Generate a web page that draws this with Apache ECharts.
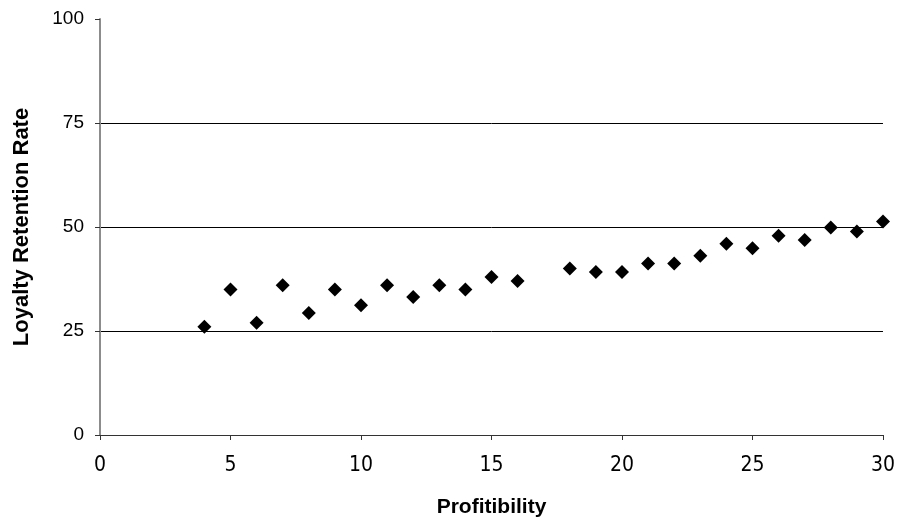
<!DOCTYPE html>
<html>
<head>
<meta charset="utf-8">
<script src="https://cdn.jsdelivr.net/npm/echarts@6/dist/echarts.min.js"></script>
<style>html,body{margin:0;padding:0;background:#fff}#c{width:898px;height:523px}</style>
</head>
<body>
<div id="c"></div>
<script>
var profitability = [4,5,6,7,8,9,10,11,12,13,14,15,16,18,19,20,21,22,23,24,25,26,27,28,29,30];
var retention = [26,35,27,36,29.3,35,31.2,36,33.2,36,35,38,37,40,39.2,39.2,41.2,41.2,43.1,46,44.9,47.9,46.9,49.9,48.9,51.3];
var xTitle = 'Profitibility';
var yTitle = 'Loyalty Retention Rate';

var chart = echarts.init(document.getElementById('c'));
chart.setOption({
  animation: false,
  grid: {left: 100, right: 15, top: 19, bottom: 87, containLabel: false},
  xAxis: {
    type: 'value', min: 0, max: 30, interval: 5,
    name: xTitle, nameLocation: 'middle', nameGap: 62,
    nameTextStyle: {fontFamily: 'Liberation Sans', fontWeight: 'bold', fontSize: 21, color: '#000'},
    axisLine: {lineStyle: {color: '#333', width: 1}},
    axisTick: {show: true, length: 5, lineStyle: {color: '#333'}},
    axisLabel: {fontFamily: '"Liberation Sans Narrow", "DejaVu Sans Condensed", sans-serif', fontSize: 21, color: '#000', margin: 20},
    splitLine: {show: false}
  },
  yAxis: {
    type: 'value', min: 0, max: 100, interval: 25,
    name: yTitle, nameLocation: 'middle', nameGap: 67, nameRotate: 90,
    nameTextStyle: {fontFamily: 'Liberation Sans', fontWeight: 'bold', fontSize: 22, color: '#000'},
    axisLine: {show: true, lineStyle: {color: '#8c8c8c', width: 2}},
    axisTick: {show: true, length: 5, lineStyle: {color: '#333'}},
    axisLabel: {fontFamily: 'Liberation Sans', fontSize: 19, color: '#000', margin: 16},
    splitLine: {show: true, showMinLine: false, showMaxLine: false, lineStyle: {color: '#000', width: 1}}
  },
  series: [{
    type: 'scatter',
    data: profitability.map(function (x, i) { return [x, retention[i]]; }),
    symbol: 'diamond',
    symbolSize: [14, 14],
    itemStyle: {color: '#000', opacity: 1}
  }]
});
</script>
</body>
</html>
